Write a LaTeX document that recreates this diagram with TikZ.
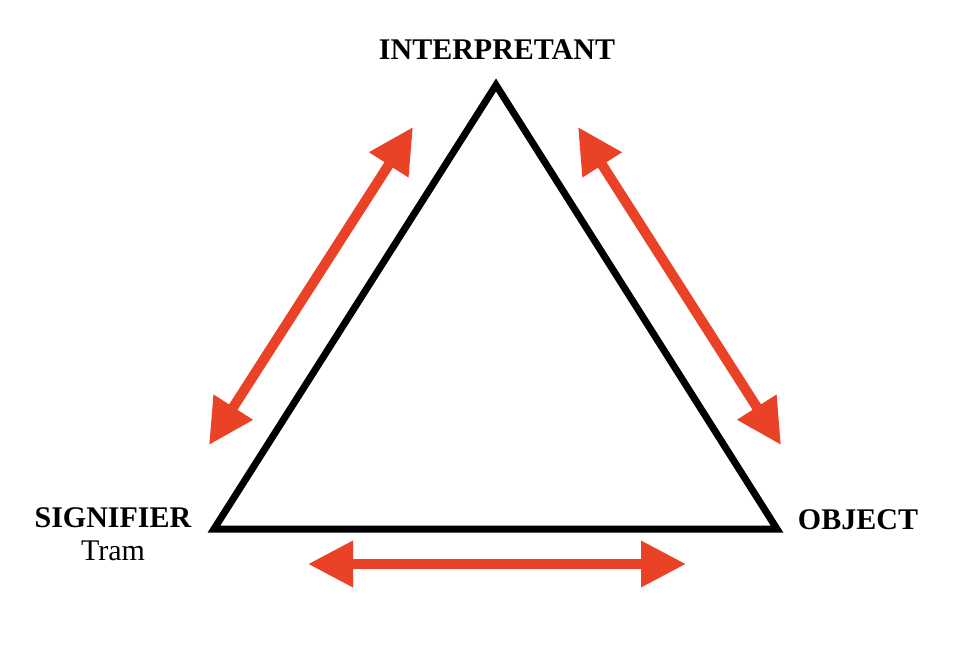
\documentclass[tikz,border=0pt]{standalone}
\usepackage{fontspec}
\setmainfont{Liberation Serif}
\usetikzlibrary{arrows.meta}
\definecolor{arrowred}{RGB}{234,66,39}

\begin{document}
\begin{tikzpicture}[x=1pt, y=1pt,
        corner/.style={font=\fontsize{30}{34}\selectfont\bfseries, anchor=base, inner sep=0pt},
        twoway/.style={arrowred, line width=10pt,
          {Triangle[length=45pt,width=44pt]}-{Triangle[length=45pt,width=44pt]}}]
        \useasboundingbox (0, 0) rectangle (978, -665);

        % the triangle
        \coordinate (interp) at (496, -85);
        \coordinate (sign) at (214, -529);
        \coordinate (obj) at (777, -529);
        \draw[line width=7pt, line join=miter] (interp) -- (sign) -- (obj) -- cycle;

        % labels
        \node[corner] (interplabel) at (497, -59) {INTERPRETANT};
        \node[corner] (signlabel) at (113, -527) {SIGNIFIER};
        \node[font=\fontsize{30}{34}\selectfont, anchor=base, inner sep=0pt] (tram) at (113, -560) {Tram};
        \node[corner] (objlabel) at (858, -529) {OBJECT};

        % arrows
        \coordinate (l1) at (413, -127);
        \coordinate (l2) at (209, -445);
        \coordinate (r1) at (578, -127);
        \coordinate (r2) at (781, -445);
        \coordinate (b1) at (308, -564);
        \coordinate (b2) at (686, -564);
        \draw[twoway] (l1) -- (l2);
        \draw[twoway] (r1) -- (r2);
        \draw[twoway] (b1) -- (b2);
\end{tikzpicture}
\end{document}
